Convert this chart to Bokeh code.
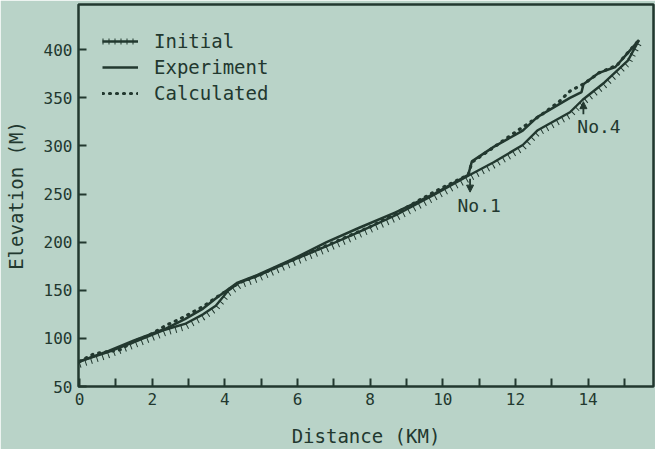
from bokeh.plotting import figure
from bokeh.models import ColumnDataSource, FixedTicker, Arrow, NormalHead, Label, Range1d
from bokeh.transform import dodge
from bokeh.embed import file_html
from bokeh.resources import INLINE

# ---- data ----
initial_x = [0, 0.8, 1.55, 2.35, 2.9, 3.4, 3.75, 4.1, 4.4, 4.9, 5.85, 6.75, 7.65, 8.7, 9.8, 10.7, 11.4, 12.2, 12.6, 13.5, 13.85, 14.45, 15.1, 15.4]
initial_y = [76, 86, 97, 109, 115, 125, 134, 150, 158, 165, 181, 195, 210, 228, 250, 269, 283, 301, 316, 335, 348, 366, 389, 410]

experiment_x = [0, 0.8, 1.5, 2.36, 2.9, 3.4, 3.8, 4.35, 4.9, 5.85, 6.8, 7.7, 8.7, 9.8, 10.7, 10.8, 11.4, 12.2, 12.6, 13.5, 13.82, 13.87, 14.3, 14.75, 15.1, 15.4]
experiment_y = [76, 87, 98, 110, 120, 131, 143, 158, 166, 182, 200, 215, 231, 251, 270, 284, 299, 316, 330, 350, 356, 364, 376, 382, 397, 410]

calculated_x = [0, 0.4, 1.1, 1.5, 1.9, 2.4, 2.7, 3.4, 3.7, 4.4, 4.9, 5.6, 6.4, 7.2, 8.0, 8.8, 9.8, 10.7, 10.8, 11.3, 12.1, 12.7, 13.2, 13.5, 13.9, 14.3, 14.8, 15.0, 15.4]
calculated_y = [76, 84, 88, 97, 103, 114, 119, 133, 141, 158, 165, 177, 190, 203, 216, 232, 253, 270, 283, 296, 317, 332, 346, 357, 365, 376, 384, 393, 410]

x_major_ticks = [0, 2, 4, 6, 8, 10, 12, 14]
x_minor_ticks = [1, 3, 5, 7, 9, 11, 13, 15]
y_ticks = [50, 100, 150, 200, 250, 300, 350, 400]

annotations = [("No.1", 10.75, 266, 252, 11.0, 238), ("No.4", 13.87, 333, 346, 14.3, 320)]

BG = "#b9d3c8"
INK = "#22382f"
FONT = "DejaVu Sans Mono"

p = figure(width=655, height=449, output_backend="svg", toolbar_location=None,
           x_range=Range1d(-0.03, 15.8), y_range=Range1d(50, 447),
           min_border_left=78, min_border_right=2, min_border_top=4, min_border_bottom=60)
p.background_fill_color = BG
p.border_fill_color = BG
p.outline_line_color = INK
p.outline_line_width = 2.5
p.grid.visible = False

src_i = ColumnDataSource(dict(x=initial_x, y=initial_y))
src_e = ColumnDataSource(dict(x=experiment_x, y=experiment_y))
src_c = ColumnDataSource(dict(x=calculated_x, y=calculated_y))

p.line("x", "y", source=src_i, line_color=INK, line_width=2.4, legend_label="Initial")
p.line("x", dodge("y", -3.5, range=p.y_range), source=src_i, line_color=INK,
       line_width=6, line_dash="1 5", legend_label="Initial")
p.line("x", "y", source=src_e, line_color=INK, line_width=2.5, legend_label="Experiment")
p.line("x", "y", source=src_c, line_color=INK, line_width=3.2, line_dash="1 6",
       line_cap="round", legend_label="Calculated")

for txt, ax, ay0, ay1, tx, ty in annotations:
    p.add_layout(Arrow(x_start=ax, y_start=ay0, x_end=ax, y_end=ay1, line_color=INK, line_width=1.8,
                       end=NormalHead(size=7, fill_color=INK, line_color=INK)))
    p.add_layout(Label(x=tx, y=ty, text=txt, text_font=FONT, text_font_size="18px",
                       text_color=INK, text_align="center", text_baseline="middle"))

# axes
xa = p.xaxis[0]
xa.ticker = FixedTicker(ticks=x_major_ticks, minor_ticks=x_minor_ticks)
ya = p.yaxis[0]
ya.ticker = FixedTicker(ticks=y_ticks, minor_ticks=[])
for ax_ in (xa, ya):
    ax_.axis_line_color = None
    ax_.major_tick_in = 8
    ax_.major_tick_out = 0
    ax_.minor_tick_in = 8
    ax_.minor_tick_out = 0
    ax_.major_tick_line_color = INK
    ax_.minor_tick_line_color = INK
    ax_.major_tick_line_width = 2
    ax_.minor_tick_line_width = 2
    ax_.major_label_text_font = FONT
    ax_.major_label_text_font_size = "16px"
    ax_.major_label_text_color = INK
    ax_.major_label_standoff = 6
    ax_.axis_label_text_font = FONT
    ax_.axis_label_text_font_size = "19px"
    ax_.axis_label_text_font_style = "normal"
    ax_.axis_label_text_color = INK
xa.axis_label = "Distance (KM)"
ya.axis_label = "Elevation (M)"
xa.axis_label_standoff = 17
ya.axis_label_standoff = 14

lg = p.legend[0]
lg.location = "top_left"
lg.background_fill_alpha = 0
lg.border_line_color = None
lg.margin = 24
lg.padding = 4
lg.spacing = 0
lg.glyph_width = 36
lg.glyph_height = 26
lg.label_height = 26
lg.label_standoff = 16
lg.label_text_font = FONT
lg.label_text_font_size = "19px"
lg.label_text_color = INK

open("out.html", "w").write(file_html(p, INLINE))
